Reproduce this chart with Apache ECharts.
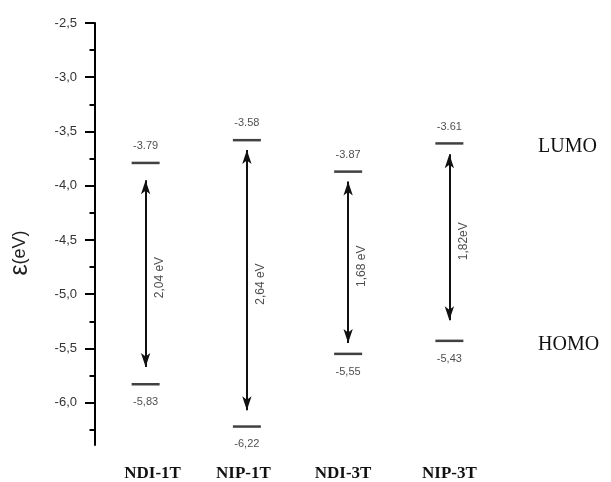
<!DOCTYPE html>
<html><head><meta charset="utf-8">
<script src="https://cdn.jsdelivr.net/npm/echarts@6/dist/echarts.min.js"></script>
<style>html,body{margin:0;padding:0;background:#fff}#c{width:611px;height:482px}</style>
</head><body><div id="c"></div>
<script>
const categories = ['NDI-1T', 'NIP-1T', 'NDI-3T', 'NIP-3T'];
const lumo = [-3.79, -3.58, -3.87, -3.61];
const homo = [-5.83, -6.22, -5.55, -5.43];
const arrowTop = [-3.95, -3.67, -3.96, -3.71];
const arrowBottom = [-5.67, -6.07, -5.45, -5.24];
const gapLabels = ['2,04 eV', '2,64 eV', '1,68 eV', '1,82eV'];
const majorTicks = [-6.0, -5.5, -5.0, -4.5, -4.0, -3.5, -3.0, -2.5];
const minorTicks = [-6.25, -5.75, -5.25, -4.75, -4.25, -3.75, -3.25, -2.75];
const sideLabels = ['LUMO', 'HOMO'];
const sideLabelValues = [-3.64, -5.47];

const chart = echarts.init(document.getElementById('c'), null, {renderer: 'canvas'});
const sans = 'Liberation Sans, Arial, sans-serif';
const serif = 'Liberation Serif, Times New Roman, serif';
const yMin = -6.39, yMax = -2.5;
const catStyle = {color: '#111', fontFamily: serif, fontWeight: 'bold', fontSize: 17};
const catPads = [[0, 0, 0, 14], [0, 7, 0, 0], [0, 10, 0, 0], [0, 0, 0, 0]];
const catRich = {};
catPads.forEach((p, i) => { catRich['c' + i] = Object.assign({padding: p}, catStyle); });

chart.setOption({
  animation: false,
  backgroundColor: '#fff',
  grid: {left: 95, right: 111, top: 23, bottom: 37},
  xAxis: {
    type: 'category', data: categories, boundaryGap: true,
    axisLine: {show: false}, axisTick: {show: false}, splitLine: {show: false},
    axisLabel: Object.assign({margin: 20, interval: 0, hideOverlap: false, rich: catRich,
      formatter: (v, i) => '{c' + i + '|' + v + '}'}, catStyle)
  },
  yAxis: [
    {
      type: 'value', min: yMin, max: yMax, position: 'left',
      name: '{e|\u03b5}{u|(eV)}', nameLocation: 'middle', nameGap: 62, nameRotate: 90,
      nameTextStyle: {padding: [0, 38, 0, 0], rich: {
        e: {fontSize: 25, fontFamily: sans, color: '#222'},
        u: {fontSize: 18, fontFamily: sans, color: '#222'}
      }},
      splitLine: {show: false},
      axisLine: {show: true, lineStyle: {color: '#000', width: 2}},
      axisTick: {show: true, customValues: majorTicks, length: 10, lineStyle: {color: '#000', width: 2}},
      axisLabel: {customValues: majorTicks, margin: 18, color: '#333', fontFamily: sans, fontSize: 13,
        formatter: v => v.toFixed(1).replace('.', ',')}
    },
    {
      type: 'value', min: yMin, max: yMax, position: 'left', offset: 0,
      splitLine: {show: false}, axisLine: {show: false},
      axisTick: {show: true, customValues: minorTicks, length: 5.5, lineStyle: {color: '#000', width: 2}},
      axisLabel: {show: false}
    },
    {
      type: 'value', min: yMin, max: yMax, position: 'right',
      splitLine: {show: false}, axisLine: {show: false}, axisTick: {show: false},
      axisLabel: {customValues: sideLabelValues, margin: 38, color: '#111', fontFamily: serif, fontSize: 20,
        formatter: v => sideLabels[sideLabelValues.indexOf(v)]}
    }
  ],
  series: [
    {
      type: 'scatter', yAxisIndex: 0, symbol: 'rect', symbolSize: [28, 2.5],
      itemStyle: {color: '#111'},
      data: lumo.map((v, i) => [i, v]),
      label: {show: true, position: 'top', distance: 10, color: '#222', fontFamily: sans, fontSize: 11,
        formatter: p => p.value[1].toFixed(2)}
    },
    {
      type: 'scatter', yAxisIndex: 0, symbol: 'rect', symbolSize: [28, 2.5],
      itemStyle: {color: '#111'},
      data: homo.map((v, i) => [i, v]),
      label: {show: true, position: 'bottom', distance: 11, color: '#222', fontFamily: sans, fontSize: 11,
        formatter: p => p.value[1].toFixed(2).replace('.', ',')}
    },
    {
      type: 'scatter', yAxisIndex: 0, symbolSize: 0, silent: true,
      data: arrowTop.map((t, i) => ({
        value: [i, (t + arrowBottom[i]) / 2],
        label: {formatter: gapLabels[i]}
      })),
      label: {show: true, position: 'inside', rotate: 90, offset: [-4, 14], color: '#222', fontFamily: sans, fontSize: 12},
      markLine: {
        silent: true, animation: false,
        symbol: ['arrow', 'arrow'], symbolSize: [7, 14],
        lineStyle: {color: '#111', width: 2, type: 'solid'},
        itemStyle: {color: '#111'},
        label: {show: false},
        emphasis: {disabled: true},
        data: arrowTop.map((t, i) => [{coord: [i, t]}, {coord: [i, arrowBottom[i]]}])
      }
    }
  ]
});
</script>
</body></html>
